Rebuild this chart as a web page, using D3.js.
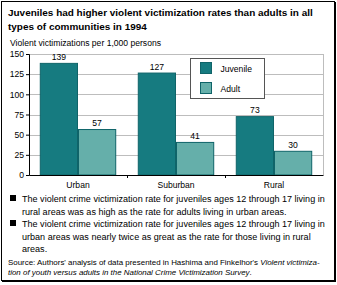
<!DOCTYPE html>
<html>
<head>
<meta charset="utf-8">
<script src="https://cdn.jsdelivr.net/npm/d3@7"></script>
<style>
  body { margin: 0; background: #fff; }
  svg text { font-family: "Liberation Sans", Arial, sans-serif; }
</style>
</head>
<body>
<div id="chart-area"></div>
<script>
var categories = ["Urban", "Suburban", "Rural"];
var series = ["Juvenile", "Adult"];
var juvenile = [139, 127, 73];
var adult = [57, 41, 30];
var yTicks = [0, 25, 50, 75, 100, 125, 150];

var colors = { Juvenile: "#167b80", Adult: "#65afaa" };

var width = 337, height = 285;
var margin = { left: 29, right: 14, top: 54, bottom: 110 };

var svg = d3.select("#chart-area")
  .append("svg")
  .attr("width", width)
  .attr("height", height);

// shrink/grow a text so it spans the given width
function fitWidth(sel, target) {
  var node = sel.node();
  var fs = parseFloat(sel.attr("font-size"));
  var w = node.getComputedTextLength();
  sel.attr("font-size", (fs * target / w).toFixed(2));
}

// outer frame with heavier right/bottom edge
svg.append("rect")
  .attr("x", 1.5).attr("y", 1.5)
  .attr("width", 333).attr("height", 279)
  .attr("fill", "none").attr("stroke", "#000").attr("stroke-width", 1);
svg.append("line").attr("x1", 335).attr("x2", 335).attr("y1", 2).attr("y2", 282)
  .attr("stroke", "#000").attr("stroke-width", 2);
svg.append("line").attr("x1", 2).attr("x2", 336).attr("y1", 281).attr("y2", 281)
  .attr("stroke", "#000").attr("stroke-width", 2);

// title
var t1 = svg.append("text").attr("x", 8).attr("y", 16)
  .attr("font-size", 11).attr("font-weight", "bold")
  .text("Juveniles had higher violent victimization rates than adults in all");
fitWidth(t1, 305);
svg.append("text").attr("x", 8).attr("y", 30)
  .attr("font-size", t1.attr("font-size")).attr("font-weight", "bold")
  .text("types of communities in 1994");

var ylab = svg.append("text")
  .attr("x", 10).attr("y", 46)
  .attr("font-size", 9)
  .text("Violent victimizations per 1,000 persons");
fitWidth(ylab, 151);
var fsSmall = ylab.attr("font-size");

var plotW = width - margin.left - margin.right;
var plotH = height - margin.top - margin.bottom;

var g = svg.append("g")
  .attr("transform", "translate(" + margin.left + ", " + margin.top + ")");

var x = d3.scaleBand().domain(categories).range([0, plotW]).paddingInner(0.22).paddingOuter(0.11);
var xOuter = d3.scaleBand().domain(categories).range([0, plotW]);
var xInner = d3.scaleBand().domain(series).range([0, x.bandwidth()]);
var y = d3.scaleLinear().domain([0, 150]).range([plotH, 0]);

// grid
g.selectAll(".grid").data(yTicks.slice(1))
  .enter().append("line")
  .attr("x1", 0).attr("x2", plotW)
  .attr("y1", function(d){ return Math.round(y(d)) + 0.5; })
  .attr("y2", function(d){ return Math.round(y(d)) + 0.5; })
  .attr("stroke", "#bdbdbd");
g.append("line")
  .attr("x1", plotW + 0.5).attr("x2", plotW + 0.5)
  .attr("y1", 0).attr("y2", plotH)
  .attr("stroke", "#bdbdbd");

var rows = categories.map(function(c, i){
  return { cat: c, values: [
    { key: "Juvenile", value: juvenile[i] },
    { key: "Adult", value: adult[i] }
  ] };
});

var groups = g.selectAll(".grp").data(rows).enter().append("g")
  .attr("transform", function(d){ return "translate(" + x(d.cat) + ",0)"; });

groups.selectAll("rect").data(function(d){ return d.values; })
  .enter().append("rect")
  .attr("x", function(d){ return xInner(d.key) + 0.5; })
  .attr("y", function(d){ return y(d.value) + 0.5; })
  .attr("width", xInner.bandwidth() - 1)
  .attr("height", function(d){ return plotH - y(d.value) - 0.5; })
  .attr("fill", function(d){ return colors[d.key]; })
  .attr("stroke", "#0f6469").attr("stroke-width", 1);

groups.selectAll(".val").data(function(d){ return d.values; })
  .enter().append("text")
  .attr("x", function(d){ return xInner(d.key) + xInner.bandwidth() / 2; })
  .attr("y", function(d){ return y(d.value) - 3; })
  .attr("text-anchor", "middle")
  .attr("font-size", fsSmall)
  .text(function(d){ return d.value; });

// axes
var yAxis = d3.axisLeft(y).tickValues(yTicks).tickSize(3).tickPadding(2);
var yAxisGroup = g.append("g").call(yAxis);
yAxisGroup.selectAll("text").attr("font-size", fsSmall).attr("fill", "#000");
yAxisGroup.select(".domain").attr("stroke", "#000");

var xAxisGroup = g.append("g")
  .attr("transform", "translate(0, " + plotH + ")")
  .call(d3.axisBottom(xOuter).tickSize(0).tickPadding(7));
xAxisGroup.selectAll("text").attr("font-size", fsSmall).attr("fill", "#000");
xAxisGroup.select(".domain").attr("stroke", "#000");
xAxisGroup.selectAll(".sep").data(categories.slice(1)).enter().append("line")
  .attr("x1", function(d){ return xOuter(d) + 0.5; })
  .attr("x2", function(d){ return xOuter(d) + 0.5; })
  .attr("y1", 0).attr("y2", 3)
  .attr("stroke", "#000");

// legend
var legend = svg.append("g").attr("transform", "translate(190.5, 58.5)");
legend.append("rect").attr("width", 74).attr("height", 40)
  .attr("fill", "#fff").attr("stroke", "#555");
series.forEach(function(s, i){
  legend.append("rect")
    .attr("x", 10).attr("y", 4 + i * 20)
    .attr("width", 11).attr("height", 11)
    .attr("fill", colors[s]).attr("stroke", "#0f6469");
  legend.append("text")
    .attr("x", 30).attr("y", 13 + i * 20)
    .attr("font-size", fsSmall)
    .text(s);
});

// bullet notes
var notes = [
  ["The violent crime victimization rate for juveniles ages 12 through 17 living in",
   "rural areas was as high as the rate for adults living in urban areas."],
  ["The violent crime victimization rate for juveniles ages 12 through 17 living in",
   "urban areas was nearly twice as great as the rate for those living in rural",
   "areas."]
];
var probe = svg.append("text").attr("font-size", 9.5).text(notes[0][0]);
fitWidth(probe, 303);
var fsNote = probe.attr("font-size");
probe.remove();

var noteY = [202, 227];
notes.forEach(function(lines, i){
  svg.append("rect").attr("x", 10).attr("y", noteY[i] - 7)
    .attr("width", 6).attr("height", 6).attr("fill", "#000");
  lines.forEach(function(l, j){
    svg.append("text").attr("x", 22).attr("y", noteY[i] + j * 12.5)
      .attr("font-size", fsNote).text(l);
  });
});

var s1 = svg.append("text").attr("x", 8).attr("y", 265).attr("font-size", 8);
s1.append("tspan").text("Source: Authors' analysis of data presented in Hashima and Finkelhor's ");
s1.append("tspan").attr("font-style", "italic").text("Violent victimiza-");
fitWidth(s1, 312);
var s2 = svg.append("text").attr("x", 8).attr("y", 274.5).attr("font-size", s1.attr("font-size"));
s2.append("tspan").attr("font-style", "italic")
  .text("tion of youth versus adults in the National Crime Victimization Survey");
s2.append("tspan").text(".");
</script>
</body>
</html>
